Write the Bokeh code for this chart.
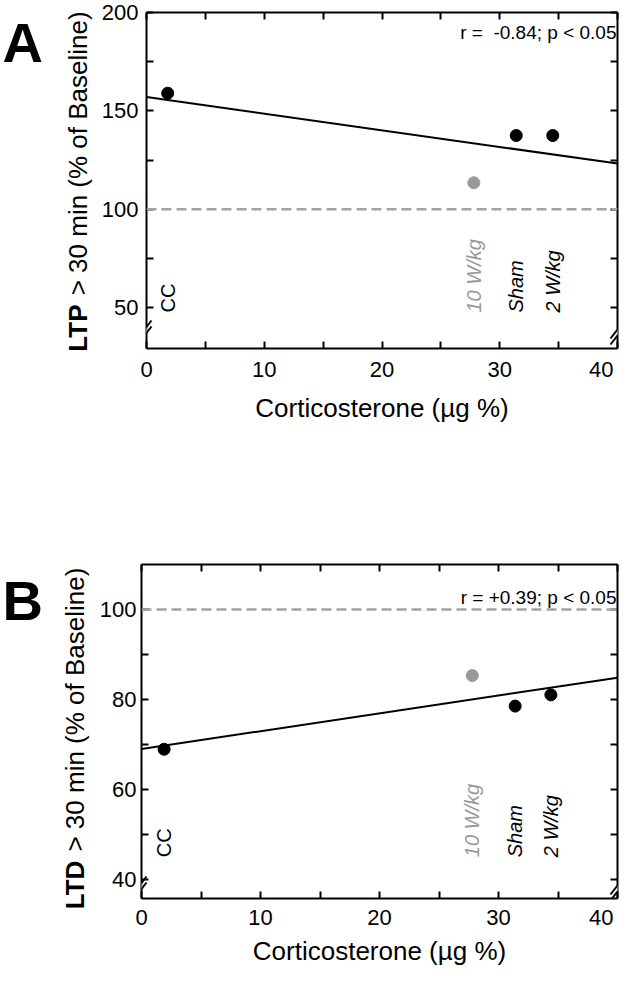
import math
import numpy as np
from bokeh.plotting import figure
from bokeh.layouts import column, row
from bokeh.models import (LinearAxis, FixedTicker, Span, Label, Arrow,
                          PolyAnnotation, Range1d, ColumnDataSource)
from bokeh.core.properties import value
from bokeh.embed import file_html
from bokeh.resources import INLINE

# ---------------- data ----------------
groups = ["CC", "10 W/kg", "Sham", "2 W/kg"]
cort_ltp = [1.8, 27.8, 31.4, 34.5]
ltp = [159.0, 113.5, 137.5, 137.5]
cort_ltd = [1.9, 27.8, 31.4, 34.4]
ltd = [68.9, 85.3, 78.5, 81.0]
group_colors = ["#000000", "#999999", "#000000", "#000000"]
group_styles = ["normal", "italic", "italic", "italic"]

x_range = (0, 40)
x_major = [0, 10, 20, 30, 40]
x_minor = [5, 15, 25, 35]
ltp_range = (29.3, 200)
ltp_major = [50, 100, 150, 200]
ltp_minor = [75, 125, 175]
ltd_range = (35.7, 110)
ltd_major = [40, 60, 80, 100]
ltd_minor = [50, 70, 90]
baseline = 100
stats_ltp = "r = \u00a0-0.84; p < 0.05"
stats_ltd = "r = +0.39; p < 0.05"
x_title = "Corticosterone (\u00b5g %)"
y_rest = "\u00a0> 30 min (% of Baseline)"

FONT = "Liberation Sans"
TICK_FS = 22
TITLE_FS = 26
NBSP = "\u00a0"


def style_axis(ax, major, minor, show_labels=True, standoff=8):
    ax.ticker = FixedTicker(ticks=major, minor_ticks=minor)
    ax.major_tick_in = 7
    ax.major_tick_out = 0
    ax.minor_tick_in = 7
    ax.minor_tick_out = 0
    ax.major_tick_line_width = 2
    ax.minor_tick_line_width = 2
    ax.major_tick_line_color = "black"
    ax.minor_tick_line_color = "black"
    ax.axis_line_width = 2
    ax.axis_line_color = "black"
    ax.major_label_text_font = FONT
    if show_labels:
        ax.major_label_text_color = "black"
        ax.major_label_text_font_size = f"{TICK_FS}px"
        ax.major_label_standoff = standoff
    else:
        ax.major_label_text_color = None
        ax.major_label_text_font_size = "0px"
        ax.major_label_standoff = 0


def text_column(width, height, fig_top, letter, letter_base_py, ybold, yrest,
                title_cx, title_cy, bold_em, total_em):
    """Left strip holding the panel letter and the two-weight y-axis title."""
    q = figure(width=width, height=height, x_range=Range1d(0, width),
               y_range=Range1d(0, height), output_backend="svg",
               toolbar_location=None, x_axis_location=None, y_axis_location=None,
               min_border=0, frame_align=False)
    q.grid.visible = False
    q.outline_line_color = None
    q.background_fill_color = "white"
    q.border_fill_color = "white"

    def fy(py):
        return height - (py - fig_top)

    def fx(px):
        return px - 8

    q.text(x=[fx(10)], y=[fy(letter_base_py)], text=[letter],
           text_align="left", text_baseline="alphabetic", text_font=value(FONT),
           text_font_size="56px", text_font_style="bold", text_color="black")
    start = title_cy + total_em * TITLE_FS / 2
    q.text(x=[fx(title_cx)], y=[fy(start)], text=[ybold], angle=math.pi / 2,
           text_align="left", text_baseline="middle", text_font=value(FONT),
           text_font_size=f"{TITLE_FS}px", text_font_style="bold", text_color="black")
    q.text(x=[fx(title_cx)], y=[fy(start - bold_em * TITLE_FS)], text=[yrest],
           angle=math.pi / 2, text_align="left", text_baseline="middle",
           text_font=value(FONT), text_font_size=f"{TITLE_FS}px", text_color="black")
    return q


def panel(xs, ys, yrange, ymaj, ymin, stats, *,
          fig_top, width, left, right, top, frame_h, height,
          y_standoff, x_standoff, xlabel_standoff,
          label_base_px, stats_base_px):
    frame_w = width - left - right
    ppy = frame_h / (yrange[1] - yrange[0])
    ft = fig_top + top

    def dy(py):
        return yrange[1] - (py - ft) / ppy

    p = figure(width=width, height=height,
               x_range=Range1d(*x_range), y_range=Range1d(*yrange),
               output_backend="svg", toolbar_location=None,
               min_border_left=left, min_border_right=right,
               min_border_top=top, min_border_bottom=height - top - frame_h,
               frame_align=False)
    p.grid.visible = False
    p.outline_line_color = None
    p.background_fill_color = "white"
    p.border_fill_color = "white"

    xb = p.xaxis[0]
    yl = p.yaxis[0]
    style_axis(xb, x_major, x_minor, True, x_standoff)
    style_axis(yl, ymaj, ymin, True, y_standoff)
    xb.axis_label = x_title
    xb.axis_label_text_font = FONT
    xb.axis_label_text_font_size = f"{TITLE_FS}px"
    xb.axis_label_text_font_style = "normal"
    xb.axis_label_text_color = "black"
    xb.axis_label_standoff = xlabel_standoff
    # the right-most x label sits just inside the edge, as in the reference
    xb.major_label_overrides = {x_major[-1]: str(x_major[-1]) + NBSP}

    xt = LinearAxis()
    yr = LinearAxis()
    style_axis(xt, x_major, x_minor, False)
    style_axis(yr, ymaj, ymin, False)
    p.add_layout(xt, "above")
    p.add_layout(yr, "right")

    p.add_layout(Span(location=baseline, dimension="width", line_color="#a3a3a3",
                      line_width=2.5, line_dash="10 5"))

    coef = np.polyfit(xs, ys, 1)
    fxs = np.array(x_range, dtype=float)
    p.line(fxs, np.polyval(coef, fxs), line_color="black", line_width=2)

    p.scatter(xs, ys, size=12, color=group_colors)

    src = ColumnDataSource(dict(x=xs, y=[dy(label_base_px)] * len(xs), t=groups,
                                c=group_colors, s=group_styles))
    p.text(x="x", y="y", text="t", source=src, angle=math.pi / 2,
           text_align="left", text_baseline="middle", text_color="c",
           text_font_style="s", text_font=value(FONT), text_font_size="20px")

    p.add_layout(Label(x=x_range[1], y=dy(stats_base_px), x_offset=-1, text=stats,
                       text_align="right", text_baseline="alphabetic",
                       text_font=FONT, text_font_size="19px", text_color="black"))

    # axis-break marks on the left and right frame edges (canvas pixels, y down)
    hx, hy, off, gx = 7, 9, 3, 3
    for cx in (left, left + frame_w):
        cy = top + frame_h - 16
        gxs = [cx - gx, cx + gx, cx + gx, cx - gx]
        gys = [cy + gx * hy / hx + off, cy - gx * hy / hx + off,
               cy - gx * hy / hx - off, cy + gx * hy / hx - off]
        p.add_layout(PolyAnnotation(xs=gxs, ys=gys, xs_units="canvas",
                                    ys_units="canvas", fill_color="white",
                                    fill_alpha=1, line_color=None))
        for s in (-off, off):
            p.add_layout(Arrow(end=None, start_units="canvas", end_units="canvas",
                               x_start=cx - hx, y_start=cy + hy + s,
                               x_end=cx + hx, y_end=cy - hy + s,
                               line_width=2, line_color="black"))
    return p


# ---- panel A ----  (page: figures start at x=8, y=8)
HA = 470
tA = text_column(98, HA, 8, "A", 50, "LTP", y_rest, 85, 189, 1.889, 13.09)
pA = panel(cort_ltp, ltp, ltp_range, ltp_major, ltp_minor, stats_ltp,
           fig_top=8, width=521, left=46, right=2, top=12,
           frame_h=336, height=HA, y_standoff=8, x_standoff=8, xlabel_standoff=8,
           label_base_px=320, stats_base_px=40)

# ---- panel B ----
HB = 498
topB = 8 + HA
tB = text_column(96, HB, topB, "B", 608, "LTD", y_rest, 82, 746, 1.944, 13.14)
pB = panel(cort_ltd, ltd, ltd_range, ltd_major, ltd_minor, stats_ltd,
           fig_top=topB, width=523, left=43, right=2, top=94,
           frame_h=340, height=HB, y_standoff=5, x_standoff=6, xlabel_standoff=3,
           label_base_px=870, stats_base_px=606)

layout = column(row(tA, pA, spacing=0), row(tB, pB, spacing=0), spacing=0)
open("out.html", "w").write(file_html(layout, INLINE))
